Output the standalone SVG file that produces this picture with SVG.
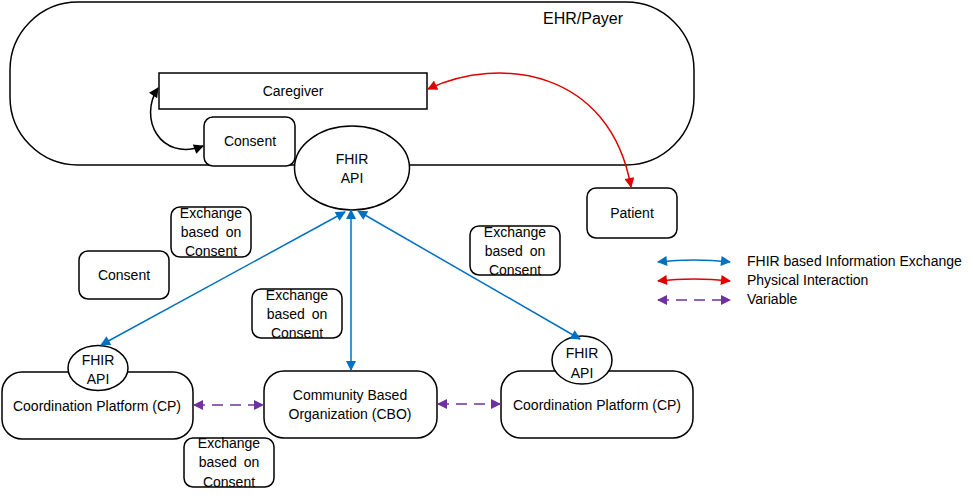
<svg xmlns="http://www.w3.org/2000/svg" width="973" height="499" viewBox="0 0 973 499">
<style>
text{font-family:"Liberation Sans",Arial,sans-serif;font-size:14px;fill:#000;text-anchor:middle}
.box{fill:#fff;stroke:#000;stroke-width:1.5}
.edge{fill:none;stroke-width:1.5}
.blue{stroke:#0070C0}
.red{stroke:#E00000}
.purple{stroke:#7030A0;stroke-dasharray:11 7}
.black{stroke:#000}
.lg{text-anchor:start}
</style>
<defs>
<marker id="ab" viewBox="0 0 10 10" refX="9" refY="5" markerWidth="11" markerHeight="10" markerUnits="userSpaceOnUse" orient="auto-start-reverse"><path d="M0,0 L10,5 L0,10 z" fill="#0070C0"/></marker>
<marker id="ar" viewBox="0 0 10 10" refX="9" refY="5" markerWidth="11" markerHeight="10" markerUnits="userSpaceOnUse" orient="auto-start-reverse"><path d="M0,0 L10,5 L0,10 z" fill="#E00000"/></marker>
<marker id="ap" viewBox="0 0 10 10" refX="9" refY="5" markerWidth="11" markerHeight="10" markerUnits="userSpaceOnUse" orient="auto-start-reverse"><path d="M0,0 L10,5 L0,10 z" fill="#7030A0"/></marker>
<marker id="ak" viewBox="0 0 10 10" refX="9" refY="5" markerWidth="11" markerHeight="10" markerUnits="userSpaceOnUse" orient="auto-start-reverse"><path d="M0,0 L10,5 L0,10 z" fill="#000"/></marker>
</defs>

<g id="ehr-payer">
<rect x="10" y="2" width="684" height="163" rx="68" ry="68" fill="#fff" stroke="#000" stroke-width="1.5"/>
<text x="583" y="24" style="font-size:16px">EHR/Payer</text>
</g>

<g id="caregiver">
<rect class="box" x="159" y="73" width="268" height="36"/>
<text x="293" y="96">Caregiver</text>
</g>

<g id="consent-inner">
<rect class="box" x="204" y="117" width="91" height="49" rx="9"/>
<text x="250" y="146">Consent</text>
</g>

<g id="fhir-api-main">
<ellipse class="box" cx="352" cy="168" rx="57.5" ry="42"/>
<text x="352" y="164">FHIR</text>
<text x="352" y="183">API</text>
</g>

<g id="patient">
<rect class="box" x="587" y="188" width="90" height="50" rx="9"/>
<text x="632" y="218">Patient</text>
</g>

<g id="exchange-1">
<rect class="box" x="171" y="207" width="80" height="50" rx="9"/>
<text x="211" y="218">Exchange</text>
<text x="211" y="237" style="word-spacing:3px">based on</text>
<text x="211" y="256">Consent</text>
</g>

<g id="consent-outer">
<rect class="box" x="79" y="251" width="90" height="48" rx="9"/>
<text x="124" y="280">Consent</text>
</g>

<g id="exchange-2">
<rect class="box" x="252" y="289" width="90" height="49" rx="9"/>
<text x="297" y="300">Exchange</text>
<text x="297" y="319" style="word-spacing:3px">based on</text>
<text x="297" y="338">Consent</text>
</g>

<g id="exchange-3">
<rect class="box" x="470" y="226" width="90" height="49" rx="9"/>
<text x="515" y="237">Exchange</text>
<text x="515" y="256" style="word-spacing:3px">based on</text>
<text x="515" y="275">Consent</text>
</g>

<g id="cp-left">
<rect class="box" x="2" y="372" width="191" height="67" rx="20"/>
<text x="97" y="411">Coordination Platform (CP)</text>
</g>
<g id="fhir-api-left">
<ellipse class="box" cx="98" cy="368" rx="30" ry="22.5"/>
<text x="98" y="365">FHIR</text>
<text x="98" y="384">API</text>
</g>

<g id="cbo">
<rect class="box" x="264" y="371" width="173" height="67" rx="20"/>
<text x="350" y="400">Community Based</text>
<text x="350" y="419">Organization (CBO)</text>
</g>

<g id="cp-right">
<rect class="box" x="501" y="371" width="192" height="67" rx="20"/>
<text x="597" y="410">Coordination Platform (CP)</text>
</g>
<g id="fhir-api-right">
<ellipse class="box" cx="582" cy="360" rx="30" ry="24"/>
<text x="582" y="358">FHIR</text>
<text x="582" y="378">API</text>
</g>

<g id="exchange-4">
<rect class="box" x="184" y="438" width="90" height="49" rx="9"/>
<text x="229" y="448">Exchange</text>
<text x="229" y="467" style="word-spacing:3px">based on</text>
<text x="229" y="487">Consent</text>
</g>

<g id="connectors">
<path class="edge black" d="M203,146 C160,162 138,118 158,88" marker-start="url(#ak)" marker-end="url(#ak)"/>
<path class="edge red" d="M428,89 C500,55 610,70 631,187" marker-start="url(#ar)" marker-end="url(#ar)"/>
<path class="edge blue" d="M345,212 L101,345" marker-start="url(#ab)" marker-end="url(#ab)"/>
<path class="edge blue" d="M351,210 L351,370" marker-start="url(#ab)" marker-end="url(#ab)"/>
<path class="edge blue" d="M358,211 L580,339" marker-start="url(#ab)" marker-end="url(#ab)"/>
<path class="edge purple" d="M194,405 L263,405" marker-start="url(#ap)" marker-end="url(#ap)"/>
<path class="edge purple" d="M438,404 L500,404" marker-start="url(#ap)" marker-end="url(#ap)"/>
</g>

<g id="legend">
<path class="edge blue" d="M658,262 Q694,258 730,262" marker-start="url(#ab)" marker-end="url(#ab)"/>
<path class="edge red" d="M658,281 Q694,277 730,281" marker-start="url(#ar)" marker-end="url(#ar)"/>
<path class="edge purple" d="M658,300 L730,300" marker-start="url(#ap)" marker-end="url(#ap)"/>
<text class="lg" x="747" y="266">FHIR based Information Exchange</text>
<text class="lg" x="747" y="285">Physical Interaction</text>
<text class="lg" x="747" y="304">Variable</text>
</g>
</svg>
